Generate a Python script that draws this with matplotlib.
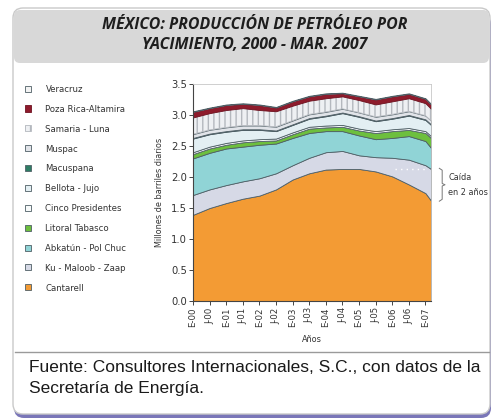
import matplotlib
matplotlib.use("Agg")
import matplotlib.pyplot as plt
from matplotlib import font_manager
from matplotlib.patches import FancyBboxPatch
from matplotlib.lines import Line2D
from matplotlib.transforms import IdentityTransform, blended_transform_factory

W, H = 493, 419

# Month index counted from January 2000 (last point: March 2007)
months = [0, 6, 12, 18, 24, 30, 36, 42, 48, 54, 60, 66, 72, 78, 84, 86]
tick_months = [0, 6, 12, 18, 24, 30, 36, 42, 48, 54, 60, 66, 72, 78, 84]
tick_labels = ["E-00", "J-00", "E-01", "J-01", "E-02", "J-02", "E-03", "J-03",
               "E-04", "J-04", "E-05", "J-05", "E-06", "J-06", "E-07"]
y_ticks = [0.0, 0.5, 1.0, 1.5, 2.0, 2.5, 3.0, 3.5]

# Production by field, millions of barrels per day
cantarell = [1.39, 1.50, 1.58, 1.65, 1.70, 1.80, 1.96, 2.06, 2.12, 2.13, 2.13, 2.09, 2.01, 1.88, 1.74, 1.62]
ku_maloob_zaap = [0.32, 0.30, 0.29, 0.28, 0.28, 0.26, 0.23, 0.25, 0.28, 0.29, 0.22, 0.23, 0.30, 0.40, 0.45, 0.51]
abkatun_pol_chuc = [0.59, 0.59, 0.59, 0.56, 0.54, 0.48, 0.44, 0.40, 0.34, 0.32, 0.32, 0.29, 0.32, 0.38, 0.39, 0.34]
litoral_tabasco = [0.07, 0.07, 0.06, 0.07, 0.06, 0.05, 0.06, 0.07, 0.06, 0.07, 0.08, 0.10, 0.11, 0.10, 0.13, 0.16]
cinco_presidentes = [0.03, 0.03, 0.03, 0.03, 0.03, 0.03, 0.03, 0.03, 0.03, 0.03, 0.03, 0.03, 0.03, 0.03, 0.03, 0.03]
bellota_jujo = [0.22, 0.20, 0.18, 0.17, 0.15, 0.12, 0.12, 0.13, 0.15, 0.19, 0.19, 0.16, 0.17, 0.20, 0.18, 0.18]
macuspana = [0.01, 0.01, 0.01, 0.01, 0.01, 0.01, 0.01, 0.01, 0.01, 0.01, 0.01, 0.01, 0.01, 0.01, 0.01, 0.01]
muspac = [0.06, 0.06, 0.06, 0.06, 0.06, 0.06, 0.06, 0.06, 0.06, 0.06, 0.06, 0.06, 0.06, 0.06, 0.06, 0.06]
samaria_luna = [0.27, 0.27, 0.28, 0.28, 0.25, 0.25, 0.24, 0.22, 0.22, 0.20, 0.20, 0.20, 0.21, 0.21, 0.20, 0.19]
poza_rica_altamira = [0.09, 0.08, 0.08, 0.07, 0.08, 0.06, 0.07, 0.07, 0.07, 0.05, 0.06, 0.08, 0.08, 0.07, 0.07, 0.07]
veracruz = [0.01, 0.01, 0.01, 0.01, 0.01, 0.01, 0.01, 0.01, 0.01, 0.01, 0.01, 0.01, 0.01, 0.01, 0.01, 0.01]

layers = [cantarell, ku_maloob_zaap, abkatun_pol_chuc, litoral_tabasco, cinco_presidentes,
          bellota_jujo, macuspana, muspac, samaria_luna, poza_rica_altamira, veracruz]
names = ["Cantarell", "Ku - Maloob - Zaap", "Abkatún - Pol Chuc", "Litoral Tabasco",
         "Cinco Presidentes", "Bellota - Jujo", "Macuspana", "Muspac", "Samaria - Luna",
         "Poza Rica-Altamira", "Veracruz"]
colors = ["#f39b34", "#d6d9e6", "#90d4d6", "#6dbf3e", "#f7fafa", "#e3eff3",
          "#2f7d64", "#e1e4e9", "#eef0f3", "#8e1b2c", "#f3f3f3"]

# Narrow face for the chart labels
available = {f.name for f in font_manager.fontManager.ttflist}
narrow = "Liberation Sans Narrow" if "Liberation Sans Narrow" in available else "DejaVu Sans"
narrow_kw = dict(family=narrow)
if narrow == "DejaVu Sans":
    narrow_kw["stretch"] = "condensed"

fig = plt.figure(figsize=(W / 100, H / 100), dpi=100)
fig.patch.set_facecolor("white")


def box(x0, y0, x1, y1, r, **kw):
    """Rounded box given in top-left pixel coordinates."""
    p = FancyBboxPatch((x0, H - y1), x1 - x0, y1 - y0,
                       boxstyle=f"round,pad=0,rounding_size={r}",
                       transform=IdentityTransform(), **kw)
    fig.patches.append(p)
    return p


# Panel frame, shadow and header band
box(14, 14, 491, 418, 10, facecolor="#7a76b8", edgecolor="none", zorder=0)
box(13, 8, 490, 414, 10, facecolor="white", edgecolor="#c9c9c9", linewidth=1.0, zorder=1)
box(14, 10, 489, 63, 6, facecolor="#d8d8d8", edgecolor="none", zorder=2)
fig.add_artist(Line2D([15, 489], [H - 352, H - 352], transform=IdentityTransform(),
                      color="#9a9a9a", linewidth=1.0, zorder=2))

title_kw = dict(family="Open Sans", weight="bold", style="italic", fontsize=11.4,
                color="#1e1e1e", ha="center", va="center", zorder=3)
fig.text(255 / W, 1 - 25 / H, "MÉXICO: PRODUCCIÓN DE PETRÓLEO POR", **title_kw)
fig.text(255 / W, 1 - 45 / H, "YACIMIENTO, 2000 - MAR. 2007", **title_kw)

footer_kw = dict(family="Liberation Sans", fontsize=12.5, color="#1a1a1a",
                 ha="left", va="center", zorder=3)
fig.text(29 / W, 1 - 367 / H, "Fuente: Consultores Internacionales, S.C., con datos de la", **footer_kw)
fig.text(29 / W, 1 - 388 / H, "Secretaría de Energía.", **footer_kw)

# Stacked areas
ax = fig.add_axes([193 / W, 118 / H, 238 / W, 217 / H], zorder=4)
ax.set_facecolor("white")
polys = ax.stackplot(months, *layers, colors=colors, labels=names,
                     edgecolor="#4f5f66", linewidth=0.6)
polys[8].set_hatch("|||")
polys[8].set_edgecolor("#b4b8be")
polys[9].set_edgecolor("#6e1220")

ax.set_xlim(0, 86)
ax.set_ylim(0, 3.5)
ax.set_yticks(y_ticks)
ax.set_yticklabels([f"{v:.1f}" for v in y_ticks], fontsize=8, color="#333333", **narrow_kw)
ax.set_xticks(tick_months)
ax.set_xticklabels(tick_labels, rotation=90, fontsize=6.8, color="#333333", **narrow_kw)
ax.tick_params(axis="both", direction="out", length=3, width=0.7, color="#444444", pad=1.5)
ax.set_ylabel("Millones de barriles diarios", fontsize=6.5, color="#333333", labelpad=5, **narrow_kw)
ax.set_xlabel("Años", fontsize=6.5, color="#333333", labelpad=6, **narrow_kw)
for side in ("left", "bottom"):
    ax.spines[side].set_color("#444444")
    ax.spines[side].set_linewidth(0.8)
for side in ("top", "right"):
    ax.spines[side].set_color("#c8c8c8")
    ax.spines[side].set_linewidth(0.6)

# Fall of Cantarell from its peak: dotted reference and brace
peak = max(cantarell)
last = cantarell[-1]
ax.hlines(peak, 73, 84, colors="white", linestyles=(0, (1, 3)), linewidth=1.0, zorder=5)
tr = blended_transform_factory(ax.transAxes, ax.transData)
mid = (peak + last) / 2
bx = [1.035, 1.047, 1.047, 1.059, 1.047, 1.047, 1.035]
by = [peak + 0.01, peak - 0.02, mid + 0.02, mid, mid - 0.02, last + 0.02, last - 0.01]
ax.add_line(Line2D(bx, by, transform=tr, color="#777777", linewidth=0.7, clip_on=False))
ax.text(1.072, mid + 0.11, "Caída", transform=tr, fontsize=6.5, color="#333333",
        ha="left", va="center", **narrow_kw)
ax.text(1.072, mid - 0.12, "en 2 años", transform=tr, fontsize=6.5, color="#333333",
        ha="left", va="center", **narrow_kw)

# Legend, top layer first
handles = polys[::-1]
leg = fig.legend(handles, names[::-1], loc="upper left",
                 bbox_to_anchor=(25 / W, 1 - 85 / H), frameon=False,
                 prop=font_manager.FontProperties(size=6.8, **narrow_kw),
                 handlelength=0.62, handleheight=0.62, handletextpad=1.55,
                 labelspacing=1.15, borderpad=0, borderaxespad=0)
for t in leg.get_texts():
    t.set_color("#333333")
for h in leg.legend_handles:
    h.set_linewidth(0.6)
leg.set_zorder(5)

fig.savefig("out.png", dpi=100, facecolor="white")
